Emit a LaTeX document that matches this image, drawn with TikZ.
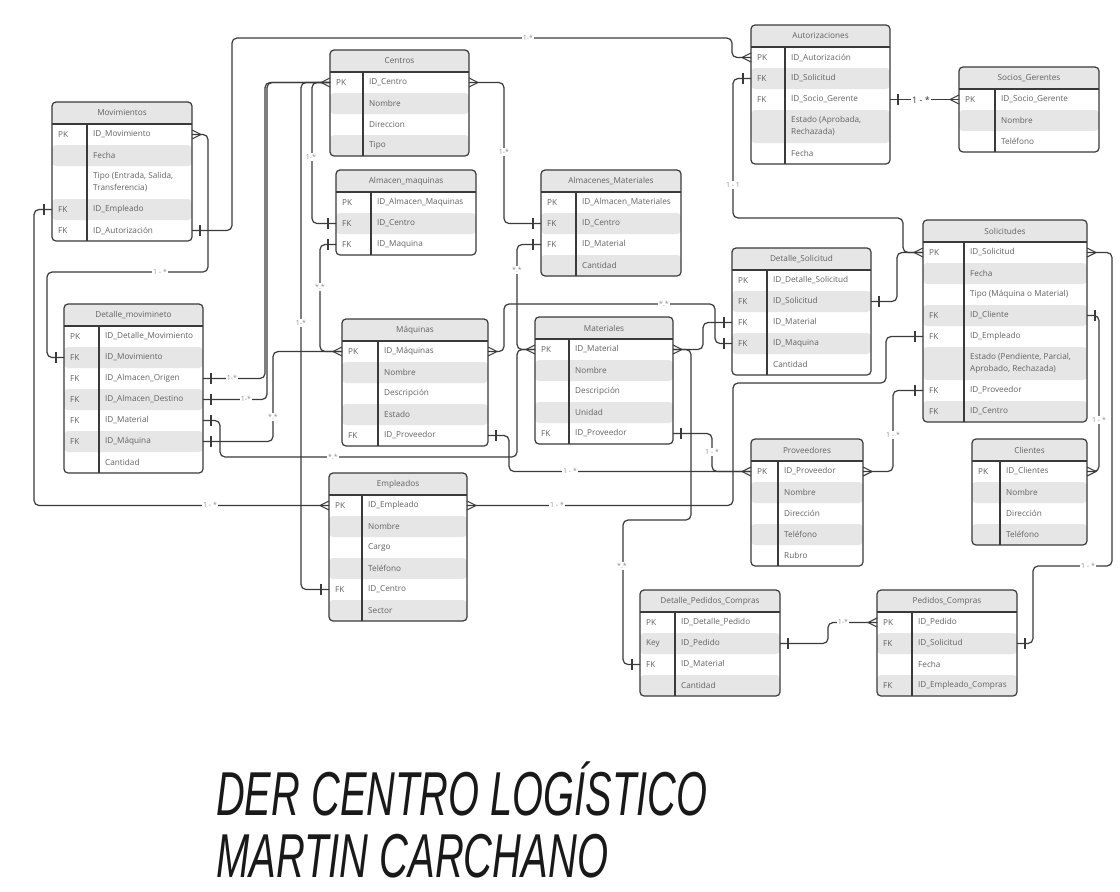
\documentclass[tikz,border=0pt]{standalone}
\usepackage{fontspec}
\setmainfont{Open Sans}
\newfontfamily\handfont{Liberation Sans}
\usetikzlibrary{positioning,fit,calc}

\definecolor{lnc}{HTML}{3A3A3A}
\definecolor{hdc}{HTML}{E6E6E6}
\definecolor{txc}{HTML}{626262}
\definecolor{crc}{HTML}{8C8C8C}

% one table: id, x, y, width, key column, title, rows key/field/height
\newcommand\ertable[7]{%
  \node[erhead, minimum width=#4, anchor=north west] (#1-0) at (#2,#3) {};
  \foreach \k/\f/\h [count=\i] in {#7}{%
    \pgfmathtruncatemacro\j{\i-1}%
    \node[errow, minimum width=#4, minimum height=\h, below=0pt of #1-\j] (#1-\i) {};
    \xdef\ernrows{\i}%
  }
  \node[erbox, fit=(#1-0)(#1-\ernrows), path picture={%
      \fill[hdc] (#1-0.north west) rectangle (#1-0.south east);
      \foreach \i in {1,...,\ernrows}{\ifodd\i\else
        \fill[hdc] (#1-\i.north west) rectangle (#1-\i.south east);\fi}
    }] (#1) {};
  \draw[erbar, rounded corners=4] (#1-0.north west) rectangle (#1-\ernrows.south east);
  \draw[erbar] (#1-0.south west) -- (#1-0.south east);
  \draw[erbar] ([xshift=#5]#1-1.north west) -- ([xshift=#5]#1-\ernrows.south west);
  \node[ertitle] (#1-t) at (#1-0) {#6};
  \foreach \k/\f/\h [count=\i] in {#7}{%
    \node[erkey] (#1-k\i) at ([xshift=6]#1-\i.west) {\k};
    \node[erfield] (#1-f\i) at ([xshift=#5+6]#1-\i.west) {\f};
  }%
}

\begin{document}
\begin{tikzpicture}[x=1pt, y=-1pt,
    erhead/.style={rectangle, inner sep=0, outer sep=0, minimum height=22},
    errow/.style={rectangle, inner sep=0, outer sep=0},
    erbox/.style={rectangle, rounded corners=4, inner sep=0, outer sep=0},
    erbar/.style={draw=lnc, line width=1.2pt},
    ertitle/.style={text=txc, font=\fontsize{8.2}{10}\selectfont},
    erkey/.style={anchor=west, inner sep=0, text=txc, font=\fontsize{8.2}{10}\selectfont},
    erfield/.style={anchor=west, inner sep=0, align=left, text=txc, font=\fontsize{8.2}{12}\selectfont},
    conn/.style={draw=lnc, line width=1.2pt, rounded corners=5},
    card/.style={fill=white, inner sep=1.2pt, text=crc, font=\fontsize{7}{8}\selectfont},
    crowfoot/.pic={\draw[draw=lnc, line width=1.1pt] (0,-4.5) -- (9,0) -- (0,4.5);},
    onebar/.pic={\draw[draw=lnc, line width=1.1pt] (8,-5.5) -- (8,5.5);},
  ]
  \fill[white] (0,0) rectangle (1120,892);
  \useasboundingbox (0,0) rectangle (1120,892);

  % tables
  \ertable{mov}{52}{102}{140}{35}{Movimientos}{PK/ID\_Movimiento/21, {}/Fecha/21, {}/{Tipo (Entrada, Salida,\\Transferencia)}/33, FK/ID\_Empleado/21, FK/ID\_Autorización/21}
  \ertable{cen}{330}{50}{139}{33}{Centros}{PK/ID\_Centro/21, {}/Nombre/21, {}/Direccion/21, {}/Tipo/21}
  \ertable{amaq}{336}{170}{140}{35}{Almacen\_maquinas}{PK/ID\_Almacen\_Maquinas/21, FK/ID\_Centro/21, FK/ID\_Maquina/21}
  \ertable{amat}{541}{170}{140}{35}{Almacenes\_Materiales}{PK/ID\_Almacen\_Materiales/21, FK/ID\_Centro/21, FK/ID\_Material/21, {}/Cantidad/21}
  \ertable{aut}{751}{25}{139}{34}{Autorizaciones}{PK/ID\_Autorización/21, FK/ID\_Solicitud/21, FK/ID\_Socio\_Gerente/21, {}/{Estado (Aprobada,\\Rechazada)}/33, {}/Fecha/21}
  \ertable{soc}{959}{67}{140}{36}{Socios\_Gerentes}{PK/ID\_Socio\_Gerente/21, {}/Nombre/21, {}/Teléfono/21}
  \ertable{sol}{923}{220}{164}{41}{Solicitudes}{PK/ID\_Solicitud/21, {}/Fecha/21, {}/Tipo (Máquina o Material)/21, FK/ID\_Cliente/21, FK/ID\_Empleado/21, {}/{Estado (Pendiente, Parcial,\\Aprobado, Rechazada)}/33, FK/ID\_Proveedor/21, FK/ID\_Centro/21}
  \ertable{dsol}{732}{248}{139}{35}{Detalle\_Solicitud}{PK/ID\_Detalle\_Solicitud/21, FK/ID\_Solicitud/21, FK/ID\_Material/21, FK/ID\_Maquina/21, {}/Cantidad/21}
  \ertable{dmov}{64}{304}{139}{35}{Detalle\_movimineto}{PK/ID\_Detalle\_Movimiento/21, FK/ID\_Movimiento/21, FK/ID\_Almacen\_Origen/21, FK/ID\_Almacen\_Destino/21, FK/ID\_Material/21, FK/ID\_Máquina/21, {}/Cantidad/21}
  \ertable{maq}{342}{319}{146}{36}{Máquinas}{PK/ID\_Máquinas/21, {}/Nombre/21, {}/Descripción/21, {}/Estado/21, FK/ID\_Proveedor/21}
  \ertable{mat}{535}{317}{138}{34}{Materiales}{PK/ID\_Material/21, {}/Nombre/21, {}/Descripción/21, {}/Unidad/21, FK/ID\_Proveedor/21}
  \ertable{emp}{329}{473}{138}{33}{Empleados}{PK/ID\_Empleado/21, {}/Nombre/21, {}/Cargo/21, {}/Teléfono/21, FK/ID\_Centro/21, {}/Sector/21}
  \ertable{prov}{751}{439}{112}{27}{Proveedores}{PK/ID\_Proveedor/21, {}/Nombre/21, {}/Dirección/21, {}/Teléfono/21, {}/Rubro/21}
  \ertable{cli}{972}{439}{115}{28}{Clientes}{PK/ID\_Clientes/21, {}/Nombre/21, {}/Dirección/21, {}/Teléfono/21}
  \ertable{dped}{640}{590}{140}{35}{Detalle\_Pedidos\_Compras}{PK/ID\_Detalle\_Pedido/21, Key/ID\_Pedido/21, FK/ID\_Material/21, {}/Cantidad/21}
  \ertable{ped}{877}{590}{140}{35}{Pedidos\_Compras}{PK/ID\_Pedido/21, FK/ID\_Solicitud/21, {}/Fecha/21, FK/ID\_Empleado\_Compras/21}

  % relations
  \draw[conn] (mov-1.east) -| (208,272) -- (47,272) |- (dmov-2.west);
  \draw[conn] (mov-4.west) -- ++(-18,0) |- (emp-1.west);
  \draw[conn] (mov-5.east) -| (232,38) -- (732,38) |- (aut-1.west);
  \draw[conn] (aut-2.west) -- ++(-18,0) |- (903,218) |- (sol-1.west);
  \draw[conn] (aut-3.east) -- (soc-1.west);
  \draw[conn] (cen-1.west) -| ([xshift=62]dmov-3.east) -- (dmov-3.east);
  \draw[conn] (cen-1.west) -| ([xshift=64]dmov-4.east) -- (dmov-4.east);
  \draw[conn] (cen-1.west) -| ([xshift=-28]emp-5.west) -- (emp-5.west);
  \draw[conn] (cen-1.west) -| ([xshift=-24]amaq-2.west) -- (amaq-2.west);
  \draw[conn] (cen-1.east) -| ([xshift=-37]amat-2.west) -- (amat-2.west);
  \draw[conn] (amaq-3.west) -- ++(-16,0) |- (maq-1.west);
  \draw[conn] (dmov-6.east) -- ++(70,0) |- (maq-1.west);
  \draw[conn] (dmov-5.east) -- ++(17,0) |- (517,457) |- (mat-1.west);
  \draw[conn] (amat-3.west) -- ++(-24,0) |- (mat-1.west);
  \draw[conn] (maq-1.east) -- ++(16,0) |- (715,304) |- (dsol-4.west);
  \draw[conn] (mat-1.east) -- ++(30,0) |- (dsol-3.west);
  \draw[conn] (mat-1.east) -- ++(18,0) |- (623,520) |- (dped-3.west);
  \draw[conn] (maq-5.east) -- ++(21,0) |- (prov-1.west);
  \draw[conn] (mat-5.east) -- ++(39,0) |- (prov-1.west);
  \draw[conn] (emp-1.east) -| (733,383) -| ([xshift=-37]sol-5.west) -- (sol-5.west);
  \draw[conn] (sol-7.west) -- ++(-30,0) |- (prov-1.east);
  \draw[conn] (sol-4.east) -- ++(12,0) |- (cli-1.east);
  \draw[conn] (sol-1.east) -- ++(25,0) |- (1033,566) |- (ped-2.east);
  \draw[conn] (dped-2.east) -- ++(48,0) |- (ped-1.west);
  \draw[conn] (dsol-2.east) -- ++(26,0) |- (sol-1.west);

  % ends: many
  \foreach \p in {mov-1.east, cen-1.east, maq-1.east, mat-1.east, emp-1.east, prov-1.east, cli-1.east, sol-1.east}
    \pic at (\p) {crowfoot};
  \foreach \p in {emp-1.west, aut-1.west, sol-1.west, soc-1.west, cen-1.west, maq-1.west, mat-1.west, prov-1.west, ped-1.west}
    \pic[rotate=180] at (\p) {crowfoot};
  % ends: one
  \foreach \p in {mov-5.east, aut-3.east, dmov-3.east, dmov-4.east, dmov-6.east, dmov-5.east, maq-5.east, mat-5.east, sol-4.east, ped-2.east, dped-2.east, dsol-2.east}
    \pic at (\p) {onebar};
  \foreach \p in {dmov-2.west, mov-4.west, aut-2.west, emp-5.west, amaq-2.west, amat-2.west, amaq-3.west, amat-3.west, dsol-4.west, dsol-3.west, dped-3.west, sol-5.west, sol-7.west}
    \pic[rotate=180] at (\p) {onebar};

  % cardinalities
  \node[card] (k1) at (160,272) {1 - *};
  \node[card] (k2) at (210,505) {1 - *};
  \node[card] (k3) at (528,38) {1-*};
  \node[card] (k4) at (733,185) {1 - 1};
  \node[card, text=lnc, font=\fontsize{9}{10}\selectfont] (k5) at (921,100) {1 - *};
  \node[card] (k6) at (232,378) {1-*};
  \node[card] (k7) at (246,399) {1-*};
  \node[card] (k8) at (301,323) {1-*};
  \node[card] (k9) at (311,157) {1-*};
  \node[card] (k10) at (504,152) {1-*};
  \node[card] (k11) at (320,287) {*.*};
  \node[card] (k12) at (273,417) {*.*};
  \node[card] (k13) at (333,457) {*.*};
  \node[card] (k14) at (517,270) {*.*};
  \node[card] (k15) at (664,304) {*.*};
  \node[card] (k16) at (622,566) {*.*};
  \node[card] (k17) at (570,471) {1 - *};
  \node[card] (k18) at (712,452) {1 - *};
  \node[card] (k19) at (557,505) {1 - *};
  \node[card] (k20) at (893,435) {1 - *};
  \node[card] (k21) at (1099,420) {1 - *};
  \node[card] (k22) at (1088,566) {1 - *};
  \node[card] (k23) at (843,622) {1-*};

  % title
  \node[anchor=base west, inner sep=0, text=black!90, font=\handfont\itshape\fontsize{62}{62}\selectfont] (title1) at (216,815) {\resizebox{491pt}{\height}{DER CENTRO LOGÍSTICO}};
  \node[anchor=base west, inner sep=0, text=black!90, font=\handfont\itshape\fontsize{62}{62}\selectfont] (title2) at (216,877) {\resizebox{392pt}{\height}{MARTIN CARCHANO}};
\end{tikzpicture}
\end{document}
